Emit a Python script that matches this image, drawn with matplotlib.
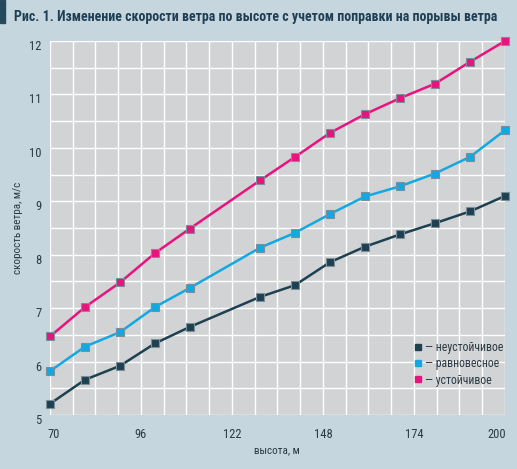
import matplotlib
matplotlib.use("Agg")
import matplotlib.pyplot as plt
from matplotlib.lines import Line2D
from matplotlib.patches import Rectangle
from matplotlib.transforms import ScaledTranslation
import numpy as np

heights = [70, 80, 90, 100, 110, 130, 140, 150, 160, 170, 180, 190, 200]
unstable = [5.21, 5.66, 5.92, 6.34, 6.65, 7.21, 7.43, 7.86, 8.15, 8.38, 8.59, 8.81, 9.10]
neutral = [5.82, 6.28, 6.55, 7.02, 7.38, 8.13, 8.41, 8.76, 9.09, 9.28, 9.52, 9.83, 10.33]
stable = [6.47, 7.02, 7.48, 8.03, 8.49, 9.39, 9.83, 10.28, 10.63, 10.93, 11.20, 11.61, 12.00]
series_names = ["неустойчивое", "равновесное", "устойчивое"]
series_colors = ["#1e4152", "#12a9e3", "#e8137f"]
x_ticks = [70, 96, 122, 148, 174, 200]
y_ticks = [5, 6, 7, 8, 9, 10, 11, 12]

title = "Рис. 1. Изменение скорости ветра по высоте с учетом поправки на порывы ветра"

FONT = ["Roboto Condensed", "PT Sans Narrow", "Liberation Sans", "DejaVu Sans"]
plt.rcParams['font.family'] = FONT
TXT = "#2b3a44"

W, H = 517, 469
fig = plt.figure(figsize=(W / 100, H / 100), dpi=100)
fig.patch.set_facecolor("#c5d6de")

ax = fig.add_axes([50 / W, 1 - 415 / H, 455 / W, 374 / H])
ax.set_facecolor("#d2d3d5")

for name, vals, col in zip(series_names, [unstable, neutral, stable], series_colors):
    ax.plot(heights, vals, color=col, lw=1.8, marker="s", ms=5.6,
            mfc=col, mec="#7d8e99", mew=0.8, zorder=3, clip_on=False)

ax.set_xlim(70, 200)
ax.set_ylim(5, 12)
ax.set_xticks(np.arange(70, 200.1, 6.5), minor=True)
ax.set_yticks(np.arange(5, 12.01, 0.5), minor=True)
ax.set_xticks(x_ticks)
ax.set_yticks(y_ticks)
ax.set_xticklabels([str(v) for v in x_ticks])
ax.set_yticklabels([str(v) for v in y_ticks])
ax.grid(True, which="both", color="white", lw=1.0)
ax.set_axisbelow(True)
for s in ax.spines.values():
    s.set_visible(False)
ax.tick_params(which="both", length=0)
ax.tick_params(axis="x", pad=9, labelsize=9, labelcolor=TXT)
ax.tick_params(axis="y", pad=6, labelsize=9, labelcolor=TXT)

px = fig.dpi_scale_trans
for lbl in ax.get_yticklabels():
    lbl.set_transform(lbl.get_transform() + ScaledTranslation(0, -4 / 100, px))
xl = ax.get_xticklabels()
xl[0].set_transform(xl[0].get_transform() + ScaledTranslation(4 / 100, 0, px))
xl[-1].set_transform(xl[-1].get_transform() + ScaledTranslation(-8 / 100, 0, px))

fig.text(277 / W, 1 - 450 / H, "высота, м", fontsize=8, color=TXT, ha="center", va="center")
fig.text(18 / W, 1 - 228 / H, "скорость ветра, м/с", fontsize=8, color=TXT,
         ha="center", va="center", rotation=90)

handles = [Line2D([], [], ls="none", marker="s", ms=5, mfc=c, mec=c) for c in series_colors]
leg = fig.legend(handles, ["— " + n for n in series_names], loc="upper left",
                 bbox_to_anchor=(413 / W, 1 - 341 / H), frameon=False, fontsize=8.5,
                 handletextpad=0.2, labelspacing=0.28, handlelength=0.8,
                 borderpad=0, borderaxespad=0, labelcolor=TXT)

fig.add_artist(Rectangle((0, 1 - 23 / H), 5 / W, 23 / H, transform=fig.transFigure,
                         color="#24485c"))
fig.text(14 / W, 1 - 17 / H, title, fontsize=10, fontweight="bold",
         color="#1f3f55", va="center", ha="left")

fig.savefig("out.png", dpi=100, facecolor=fig.get_facecolor())
